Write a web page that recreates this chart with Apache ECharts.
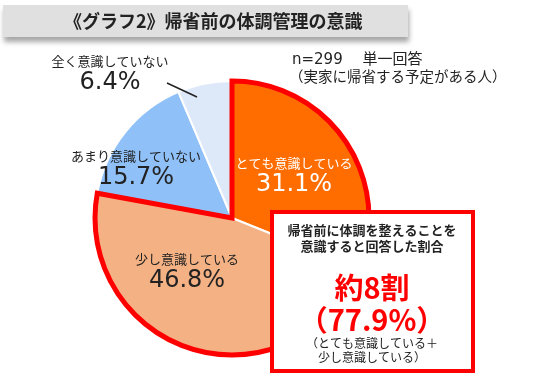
<!DOCTYPE html>
<html><head><meta charset="utf-8">
<script src="https://cdn.jsdelivr.net/npm/echarts@6/dist/echarts.min.js"></script>
<style>html,body{margin:0;padding:0;background:#fff}#c{width:536px;height:377px}</style>
</head><body><div id="c"></div>
<script>
const categories = ['とても意識している', '少し意識している', 'あまり意識していない', '全く意識していない'];
const values = [31.1, 46.8, 15.7, 6.4];
const sliceColors = ['#ff6d01', '#f4b183', '#8fc0f8', '#dde9f8'];
const labelColors = ['#ffffff', '#222222', '#222222', '#222222'];
const titleText = '《グラフ2》帰省前の体調管理の意識';
const noteLines = ['n=299　 単一回答', '（実家に帰省する予定がある人）'];
const boxHeadLines = ['帰省前に体調を整えることを', '意識すると回答した割合'];
const boxMainLine = '約8割';
const boxSubLines = ['（とても意識している＋', '少し意識している）'];
const highlightCount = 2;

const FONT = '"Noto Sans CJK JP", "Noto Sans", sans-serif';
const NUMFONT = '"DejaVu Sans", "Noto Sans CJK JP", sans-serif';
const combined = +(values.slice(0, highlightCount).reduce((a, b) => a + b, 0)).toFixed(1);
const CX = 232, CY = 218, R = 137;
const labelPos = [[294, 176], [187, 272], [136, 169], [110, 74]];

const chart = echarts.init(document.getElementById('c'), null, {renderer: 'canvas'});
chart.setOption({
  animation: false,
  backgroundColor: '#fff',
  textStyle: {fontFamily: FONT},
  series: [
    {
      type: 'pie',
      center: [CX, CY],
      radius: R,
      startAngle: 90,
      clockwise: true,
      z: 2,
      silent: true,
      itemStyle: {borderColor: '#ffffff', borderWidth: 2},
      label: {
        show: true,
        position: 'inside',
        fontFamily: FONT,
        formatter: p => `{n|${p.name}}\n{v|${p.value.toFixed(1)}%}`,
        rich: {
          n: {fontSize: 13, lineHeight: 18, fontFamily: FONT},
          v: {fontSize: 24, lineHeight: 26, fontFamily: NUMFONT}
        }
      },
      labelLine: {show: false},
      labelLayout: p => {
        const pos = labelPos[p.dataIndex];
        return {x: pos[0], y: pos[1], align: 'center', verticalAlign: 'middle', hideOverlap: false};
      },
      data: categories.map((c, i) => ({
        name: c, value: values[i],
        itemStyle: {color: sliceColors[i]},
        label: {color: labelColors[i]}
      }))
    },
    {
      type: 'pie',
      center: [CX, CY],
      radius: R,
      startAngle: 90,
      clockwise: true,
      z: 3,
      silent: true,
      label: {show: false},
      labelLine: {show: false},
      data: [
        {value: combined, itemStyle: {color: 'rgba(0,0,0,0)', borderColor: '#ff0000', borderWidth: 5, borderJoin: 'miter'}},
        {value: +(100 - combined).toFixed(1), itemStyle: {color: 'rgba(0,0,0,0)', borderWidth: 0}}
      ]
    }
  ],
  graphic: [
    {type: 'rect', z: 10, shape: {x: 3, y: 5, width: 405, height: 32},
      style: {fill: '#e0e0e0', shadowBlur: 5, shadowOffsetY: 5, shadowOffsetX: 1, shadowColor: 'rgba(0,0,0,0.35)'}},
    {type: 'text', z: 11, x: 64, y: 21, style: {text: titleText, font: `bold 18px ${FONT}`, fill: '#222', verticalAlign: 'middle'}},
    {type: 'text', z: 11, x: 292, y: 60, style: {text: noteLines[0], font: `15px ${NUMFONT}`, fill: '#222', verticalAlign: 'middle'}},
    {type: 'text', z: 11, x: 289, y: 76, style: {text: noteLines[1], font: `14.5px ${FONT}`, fill: '#222', verticalAlign: 'middle'}},
    {type: 'line', z: 11, shape: {x1: 167, y1: 83, x2: 197, y2: 97}, style: {stroke: '#222', lineWidth: 1.5}},
    {type: 'rect', z: 20, shape: {x: 272, y: 212, width: 201, height: 159},
      style: {fill: '#fff', stroke: '#ff0000', lineWidth: 4}},
    {type: 'text', z: 21, x: 372, y: 230, style: {text: boxHeadLines[0], font: `bold 13px ${FONT}`, fill: '#222', align: 'center', verticalAlign: 'middle'}},
    {type: 'text', z: 21, x: 372, y: 246, style: {text: boxHeadLines[1], font: `bold 13px ${FONT}`, fill: '#222', align: 'center', verticalAlign: 'middle'}},
    {type: 'text', z: 21, x: 372, y: 288, style: {text: boxMainLine, font: `bold 29px ${FONT}`, fill: '#ff0000', align: 'center', verticalAlign: 'middle'}},
    {type: 'text', z: 21, x: 372, y: 320, style: {text: '（' + combined.toFixed(1) + '%）', font: `bold 29px ${FONT}`, fill: '#ff0000', align: 'center', verticalAlign: 'middle'}},
    {type: 'text', z: 21, x: 372, y: 343, style: {text: boxSubLines[0], font: `12px ${FONT}`, fill: '#222', align: 'center', verticalAlign: 'middle'}},
    {type: 'text', z: 21, x: 372, y: 357, style: {text: boxSubLines[1], font: `12px ${FONT}`, fill: '#222', align: 'center', verticalAlign: 'middle'}}
  ]
});
</script>
</body></html>
